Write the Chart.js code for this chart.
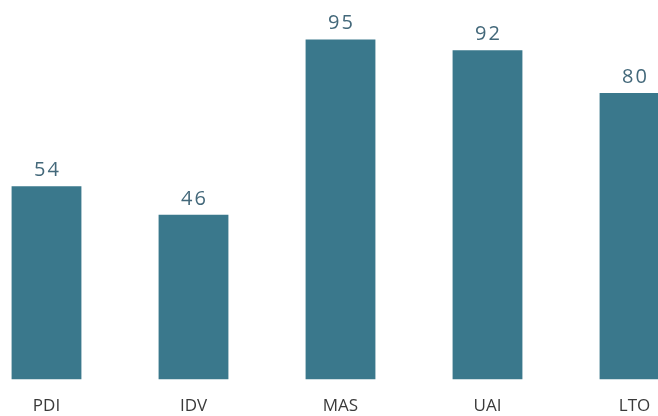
<!DOCTYPE html>
<html>
<head>
<meta charset="utf-8">
<script src="https://cdn.jsdelivr.net/npm/chart.js@4.4.0/dist/chart.umd.min.js"></script>
<style>
  html, body { margin: 0; padding: 0; background: #fff; overflow: hidden; }
  #chart { position: absolute; left: -27px; top: 0; }
</style>
</head>
<body>
<canvas id="chart" width="735" height="436"></canvas>
<script>
const categories = ['PDI', 'IDV', 'MAS', 'UAI', 'LTO'];
const scores = [54, 46, 95, 92, 80];

// nombres au-dessus des barres
const valueLabels = {
    id: 'valueLabels',
    afterDatasetsDraw(chart) {
        const ctx = chart.ctx;
        const meta = chart.getDatasetMeta(0);
        ctx.save();
        ctx.font = '20px "Open Sans", sans-serif';
        ctx.letterSpacing = '2px';
        ctx.fillStyle = '#43687a';
        ctx.textAlign = 'center';
        ctx.textBaseline = 'alphabetic';
        meta.data.forEach((bar, i) => {
            ctx.fillText(scores[i], bar.x + 1, bar.y - 10);
        });
        ctx.restore();
    }
};

new Chart(document.getElementById('chart').getContext('2d'), {
    type: 'bar',
    data: {
        labels: categories,
        datasets: [{
            data: scores,
            backgroundColor: '#3a788c',
            categoryPercentage: 1,
            barPercentage: 0.475
        }]
    },
    options: {
        responsive: false,
        maintainAspectRatio: false,
        animation: false,
        layout: { padding: { top: 0, bottom: 4, left: 0, right: 0 } },
        plugins: { legend: { display: false }, tooltip: { enabled: false } },
        scales: {
            x: {
                grid: { display: false, drawTicks: false },
                border: { display: false },
                ticks: { color: '#3a3a3a', font: { family: '"Open Sans", sans-serif', size: 17 }, padding: 16 }
            },
            y: { display: false, min: 0, max: 106 }
        }
    },
    plugins: [valueLabels]
});
</script>
</body>
</html>
